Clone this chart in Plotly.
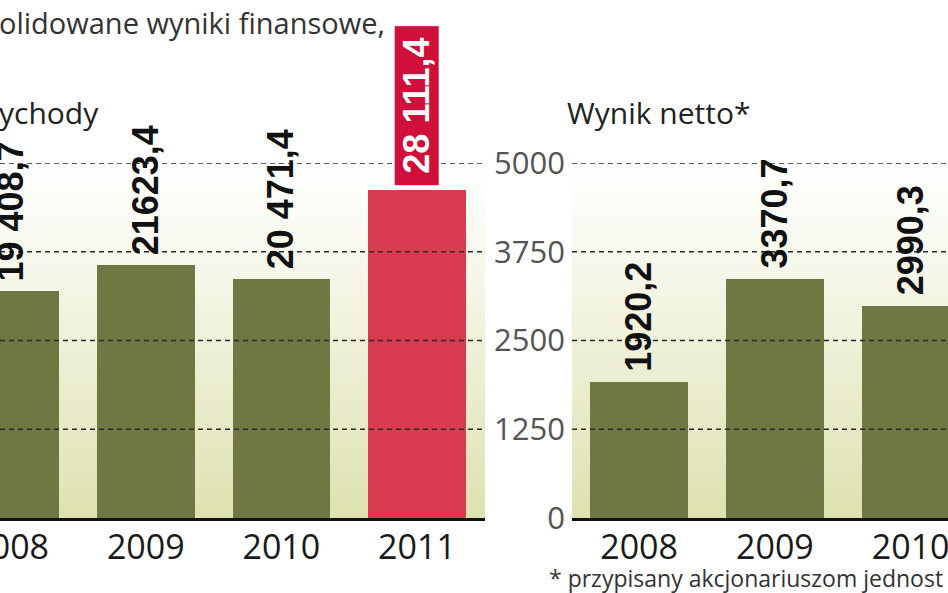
import base64
import struct
import zlib
import plotly.graph_objects as go

# ---------------- data ----------------
YEARS_LEFT = ["2008", "2009", "2010", "2011"]
REVENUE = [19408.7, 21623.4, 20471.4, 28111.4]
REVENUE_LABELS = ["19 408,7", "21623,4", "20 471,4", "28 111,4"]

YEARS_RIGHT = ["2008", "2009", "2010"]
NET_PROFIT = [1920.2, 3370.7, 2990.3]
NET_PROFIT_LABELS = ["1920,2", "3370,7", "2990,3"]

Y2_TICKS = [0, 1250, 2500, 3750, 5000]
Y2_TICK_LABELS = ["0", "1250", "2500", "3750", "5000"]
LEFT_MAX = 30400          # implied top of the (cropped) revenue axis
RIGHT_MAX = 5000

TITLE = "olidowane wyniki finansowe,"
LEFT_TITLE = "ychody"
RIGHT_TITLE = "Wynik netto*"
FOOTNOTE = "* przypisany akcjonariuszom jednost"

# ---------------- style ----------------
W, H = 948, 593
GREEN = "#6f7842"
RED = "#d83a4f"
RED_BOX = "#d0103a"
GRID = "#2a2a2a"
LABEL_FONT = dict(family="Liberation Sans", size=36, color="#111111", weight="bold")
TEXT_FONT = "Open Sans"

xl = list(range(len(YEARS_LEFT)))
xr = list(range(len(YEARS_RIGHT)))
LEFT_XRANGE = [-0.075, 3.502]
RIGHT_XRANGE = [-0.494, 2.275]
BAR_W = 0.72

plot_top_px, plot_bot_px = 163, 518
ydom = [(H - plot_bot_px) / H, (H - plot_top_px) / H]


def gradient_png(top_rgb, mid_rgb, bot_rgb, rows=200):
    """Vertical gradient PNG (1 px wide) as data URI, used as panel background."""
    raw = b""
    for r in range(rows):
        t = r / (rows - 1)
        if t < 0.3:
            u = t / 0.3
            c = [round(top_rgb[k] + (mid_rgb[k] - top_rgb[k]) * u) for k in range(3)]
        else:
            u = (t - 0.3) / 0.7
            c = [round(mid_rgb[k] + (bot_rgb[k] - mid_rgb[k]) * u) for k in range(3)]
        raw += b"\x00" + bytes(c)

    def chunk(tag, data):
        return struct.pack(">I", len(data)) + tag + data + struct.pack(">I", zlib.crc32(tag + data) & 0xffffffff)

    png = b"\x89PNG\r\n\x1a\n"
    png += chunk(b"IHDR", struct.pack(">IIBBBBB", 1, rows, 8, 2, 0, 0, 0))
    png += chunk(b"IDAT", zlib.compress(raw))
    png += chunk(b"IEND", b"")
    return "data:image/png;base64," + base64.b64encode(png).decode()


BG_IMG = gradient_png((255, 255, 255), (246, 247, 234), (222, 226, 176))

fig = go.Figure()

# revenue bars
fig.add_trace(go.Bar(
    x=xl, y=REVENUE, width=BAR_W, xaxis="x", yaxis="y",
    marker=dict(color=[GREEN, GREEN, GREEN, RED], line=dict(width=0)),
    showlegend=False, hoverinfo="skip"))

# net profit bars
fig.add_trace(go.Bar(
    x=xr, y=NET_PROFIT, width=BAR_W, xaxis="x2", yaxis="y2",
    marker=dict(color=GREEN, line=dict(width=0)),
    showlegend=False, hoverinfo="skip"))

annotations = []
for i, (v, lab) in enumerate(zip(REVENUE, REVENUE_LABELS)):
    if i == len(REVENUE) - 1:
        annotations.append(dict(
            x=xl[i], y=v, xref="x", yref="y", text="\u00a0" + lab + "\u00a0",
            showarrow=False, textangle=-90, xanchor="center", yanchor="bottom",
            yshift=4, bgcolor=RED_BOX, borderpad=1,
            font=dict(family="Liberation Sans", size=36, color="white", weight="bold")))
    else:
        annotations.append(dict(
            x=xl[i], y=v, xref="x", yref="y", text=lab, showarrow=False,
            textangle=-90, xanchor="center", yanchor="bottom", yshift=8,
            font=LABEL_FONT))
for i, (v, lab) in enumerate(zip(NET_PROFIT, NET_PROFIT_LABELS)):
    annotations.append(dict(
        x=xr[i], y=v, xref="x2", yref="y2", text=lab, showarrow=False,
        textangle=-90, xanchor="center", yanchor="bottom", yshift=8,
        font=LABEL_FONT))

annotations += [
    dict(x=0, y=(H - 22) / H, xref="paper", yref="paper", text=TITLE, showarrow=False,
         xanchor="left", yanchor="middle", xshift=-3,
         font=dict(family=TEXT_FONT, size=29, color="#333333")),
    dict(x=0, y=(H - 112) / H, xref="paper", yref="paper", text=LEFT_TITLE, showarrow=False,
         xanchor="left", yanchor="middle", xshift=-3,
         font=dict(family=TEXT_FONT, size=30, color="#222222")),
    dict(x=568 / W, y=(H - 112) / H, xref="paper", yref="paper", text=RIGHT_TITLE, showarrow=False,
         xanchor="left", yanchor="middle", xshift=-3,
         font=dict(family=TEXT_FONT, size=30, color="#222222")),
    dict(x=550 / W, y=(H - 578) / H, xref="paper", yref="paper", text=FOOTNOTE, showarrow=False,
         xanchor="left", yanchor="middle", xshift=-3,
         font=dict(family=TEXT_FONT, size=23, color="#333333")),
]

shapes = []
for t in Y2_TICKS[1:]:
    for xr_ in ("x domain", "x2 domain"):
        shapes.append(dict(type="line", xref=xr_, yref="y2", x0=0, x1=1, y0=t, y1=t,
                           line=dict(color=GRID, width=1.4, dash="5px,4px"), layer="above"))

images = [
    dict(source=BG_IMG, xref="x domain", yref="y domain", x=0, y=1, sizex=1, sizey=1,
         xanchor="left", yanchor="top", sizing="stretch", layer="below"),
    dict(source=BG_IMG, xref="x2 domain", yref="y2 domain", x=0, y=1, sizex=1, sizey=1,
         xanchor="left", yanchor="top", sizing="stretch", layer="below"),
]

axis_common = dict(showgrid=False, zeroline=False, ticks="", showline=True,
                   linecolor="#111111", linewidth=3, fixedrange=True, automargin=False,
                   ticklabeloverflow="allow", ticklabelstandoff=-3,
                   tickfont=dict(family=TEXT_FONT, size=34, color="#1a1a1a"))

fig.update_layout(
    template="none",
    width=W, height=H, margin=dict(l=0, r=0, t=0, b=0, pad=0), autosize=False,
    paper_bgcolor="white", plot_bgcolor="white",
    bargap=0,
    xaxis=dict(domain=[0, 485 / W], range=LEFT_XRANGE, anchor="y",
               tickvals=xl, ticktext=YEARS_LEFT, **axis_common),
    xaxis2=dict(domain=[572 / W, 1], range=RIGHT_XRANGE, anchor="y2",
                tickvals=xr, ticktext=YEARS_RIGHT, **axis_common),
    yaxis=dict(domain=ydom, range=[0, LEFT_MAX], anchor="x", visible=False,
               showgrid=False, zeroline=False, fixedrange=True, automargin=False),
    yaxis2=dict(domain=ydom, range=[0, RIGHT_MAX], anchor="x2",
                tickvals=Y2_TICKS, ticktext=Y2_TICK_LABELS, showgrid=False,
                zeroline=False, showline=False, ticks="", ticklabelstandoff=6,
                fixedrange=True, automargin=False,
                tickfont=dict(family=TEXT_FONT, size=31, color="#555555")),
    annotations=annotations,
    shapes=shapes,
    images=images,
)

fig.write_html(
    "out.html",
    config={"displayModeBar": False},
    post_script="document.body.style.margin='0';document.body.style.overflow='hidden';",
)
